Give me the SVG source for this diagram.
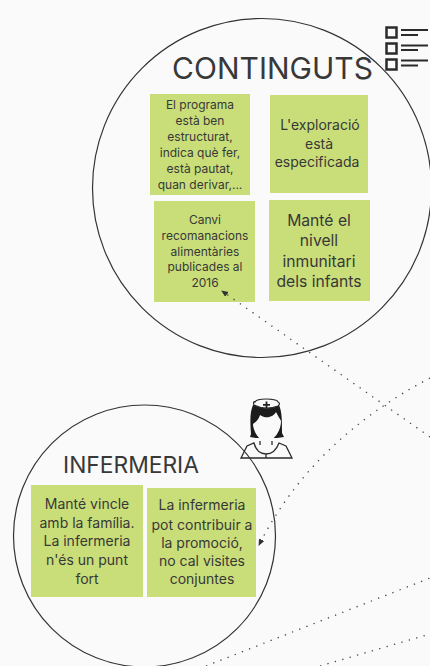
<svg xmlns="http://www.w3.org/2000/svg" width="430" height="666" viewBox="0 0 430 666">
<style>
text{font-family:"Inter","Open Sans","Liberation Sans",sans-serif;fill:#383838;text-anchor:middle}
.note{fill:#c9de79}
.ring{fill:none;stroke:#333;stroke-width:1.2}
.link{fill:none;stroke:#444;stroke-width:1.3;stroke-dasharray:1.3 6.400}
.t11{font-size:12px}.t13{font-size:14px}.t14{font-size:15.700px}
.ic{fill:none;stroke:#2b2b2b}
</style>
<defs><marker id="a" markerWidth="7" markerHeight="7" refX="6" refY="3" orient="auto" markerUnits="userSpaceOnUse"><path d="M0,0L7,3L0,6z" fill="#333"/></marker></defs>
<rect width="430" height="666" fill="#fafafa"/>
<g id="continguts">
<circle class="ring" cx="262" cy="188" r="169.500"/>
<text x="272.500" y="79" font-size="30">CONTINGUTS</text>
<g id="icon-list">
<g class="ic" stroke-width="2.500"><rect x="386.500" y="27.500" width="10" height="10"/><rect x="386.500" y="43.500" width="10" height="10"/><rect x="386.500" y="59.500" width="10" height="10"/></g>
<g class="ic" stroke-width="1.800"><path d="M401,30H428M401,35H418M401,45.500H428M401,50H418M401,60.500H428M401,65.500H418"/></g>
</g>
</g>
<g id="note-programa"><rect class="note" x="150" y="94" width="100" height="101"/>
<text class="t11" x="200" y="109">El programa</text><text class="t11" x="200" y="125">està ben</text><text class="t11" x="200" y="141">estructurat,</text><text class="t11" x="200" y="157">indica què fer,</text><text class="t11" x="200" y="173">està pautat,</text><text class="t11" x="200" y="189">quan derivar,...</text></g>
<g id="note-exploracio"><rect class="note" x="270" y="95" width="98" height="98"/>
<text class="t13" x="320" y="130">L'exploració</text><text class="t13" x="319" y="149">està</text><text class="t13" x="317" y="167">especificada</text></g>
<g id="note-canvi"><rect class="note" x="154" y="201" width="101" height="101"/>
<text class="t11" x="205" y="224">Canvi</text><text class="t11" x="205" y="240">recomanacions</text><text class="t11" x="205" y="256">alimentàries</text><text class="t11" x="205" y="271">publicades al</text><text class="t11" x="205" y="287">2016</text></g>
<g id="note-nivell"><rect class="note" x="269" y="200" width="101" height="101"/>
<text class="t14" x="319" y="226">Manté el</text><text class="t14" x="319" y="246">nivell</text><text class="t14" x="319" y="267">inmunitari</text><text class="t14" x="319" y="287">dels infants</text></g>
<g id="infermeria">
<circle class="ring" cx="144.500" cy="536" r="131"/>
<text x="131" y="473" font-size="22.800">INFERMERIA</text>
<g id="icon-nurse">
<path d="M251,434C250,420 250,412 253,405H279C282,412 282,420 282,433L284,437 277,438H256L250,437z" fill="#1c1c1c"/>
<path d="M260,415C267,420 274,416 276,412C278,416 280,419 281,421C281,430 275,441 266,441C259,441 253,431 253,424C256,422 259,419 260,415z" fill="#fafafa"/>
<path d="M254,405C253,402 254,401 255,402C256,400 262,399 266,399C271,399 278,400 278,402C280,403 280,404 278,406C270,409 262,409 254,405z" fill="#fafafa" stroke="#2b2b2b" stroke-width="1.200"/>
<path d="M266.500,401.500V408M263,404.800H270" stroke="#222" stroke-width="1.800" fill="none"/>
<path d="M241,458L247,446 254,443C256,451 261,454 266,454C271,454 276,451 279,443L286,446 292,458zM260,441V445M272,441V445M266,454V458" fill="none" stroke="#2b2b2b" stroke-width="1.300"/>
</g>
</g>
<g id="note-vincle"><rect class="note" x="31" y="485" width="112" height="112"/>
<text class="t13" x="87" y="509">Manté vincle</text><text class="t13" x="87" y="528">amb la família.</text><text class="t13" x="87" y="546">La infermeria</text><text class="t13" x="87" y="565">n'és un punt</text><text class="t13" x="87" y="584">fort</text></g>
<g id="note-promocio"><rect class="note" x="147" y="488" width="109" height="109"/>
<text class="t13" x="202" y="510">La infermeria</text><text class="t13" x="202" y="530">pot contribuir a</text><text class="t13" x="202" y="548">la promoció,</text><text class="t13" x="202" y="566">no cal visites</text><text class="t13" x="202" y="584">conjuntes</text></g>
<g id="connectors">
<path class="link" d="M430,437L222,291" marker-end="url(#a)"/>
<path class="link" d="M430,378Q312,440 259,545" marker-end="url(#a)"/>
<path class="link" d="M206,666L430,578"/>
<path class="link" d="M320,666L430,634"/>
</g>
</svg>
